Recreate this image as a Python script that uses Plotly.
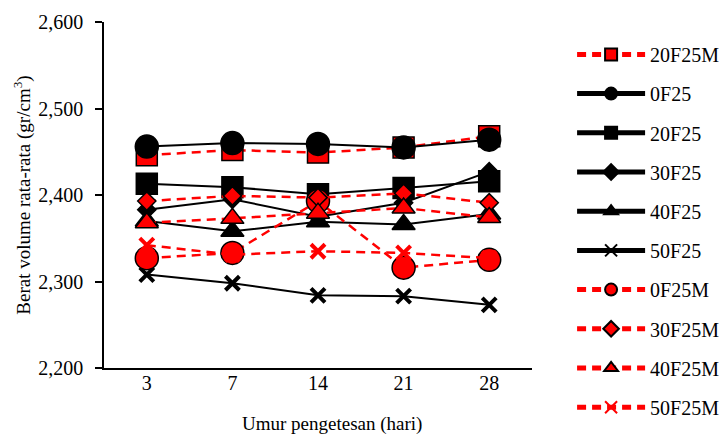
import plotly.graph_objects as go

# Curing age (days) used as categories on the x axis
days = ["3", "7", "14", "21", "28"]

# Average unit weight (gr/cm3) per mix
f20_25m = [2.446, 2.452, 2.449, 2.455, 2.468]
f0_25 = [2.456, 2.460, 2.459, 2.455, 2.464]
f20_25 = [2.413, 2.409, 2.401, 2.408, 2.416]
f30_25 = [2.383, 2.395, 2.375, 2.391, 2.427]
f40_25 = [2.370, 2.358, 2.369, 2.366, 2.378]
f50_25 = [2.308, 2.298, 2.284, 2.283, 2.273]
f0_25m = [2.327, 2.333, 2.393, 2.316, 2.325]
f30_25m = [2.393, 2.399, 2.397, 2.402, 2.391]
f40_25m = [2.368, 2.373, 2.379, 2.385, 2.374]
f50_25m = [2.342, 2.331, 2.335, 2.333, 2.327]

y_ticks = [2.2, 2.3, 2.4, 2.5, 2.6]

RED = "#ff0000"
BLACK = "#000000"
FONT = "Liberation Serif, Times New Roman, serif"

# (name, values, symbol, colour, size, dashed)
series = [
    ("20F25M", f20_25m, "square", RED, 21, True),
    ("0F25", f0_25, "circle", BLACK, 23, False),
    ("20F25", f20_25, "square", BLACK, 21, False),
    ("30F25", f30_25, "diamond", BLACK, 14, False),
    ("40F25", f40_25, "triangle-up", BLACK, 20, False),
    ("50F25", f50_25, "x-thin", BLACK, 14, False),
    ("0F25M", f0_25m, "circle", RED, 23, True),
    ("30F25M", f30_25m, "diamond", RED, 14, True),
    ("40F25M", f40_25m, "triangle-up", RED, 20, True),
    ("50F25M", f50_25m, "x-thin", RED, 14, True),
]

fig = go.Figure()
for name, vals, sym, col, size, dashed in series:
    is_x = sym == "x-thin"
    fig.add_trace(go.Scatter(
        x=days, y=vals, name=name, mode="lines+markers",
        legendgroup=name,
        line=dict(color=col, width=2.5 if dashed else 2,
                  dash="9px,6px" if dashed else "solid"),
        marker=dict(symbol=sym, size=size, color=col,
                    line=dict(color=col if is_x else BLACK,
                              width=4 if is_x else 1.5)),
    ))

L, R, T, B = 104, 194, 22, 68
fig.update_layout(
    width=726, height=436,
    margin=dict(l=L, r=R, t=T, b=B, autoexpand=False),
    paper_bgcolor="white", plot_bgcolor="white",
    separators=", ",
    font=dict(family=FONT, size=20, color="black"),
    showlegend=True,
    legend=dict(
        xref="container", yref="container",
        x=0.788, xanchor="left", y=0.92, yanchor="top",
        maxheight=430,
        font=dict(family=FONT, size=20, color="black"),
        itemwidth=68, itemsizing="constant",
        tracegroupgap=10.2, bgcolor="rgba(0,0,0,0)",
    ),
    annotations=[dict(
        text="Umur pengetesan (hari)", xref="paper", yref="paper",
        x=(332 - L) / (726 - L - R), y=-(424 - 368) / (436 - T - B),
        xanchor="center", yanchor="middle", showarrow=False,
        font=dict(family=FONT, size=19, color="black"),
    )],
)

fig.update_xaxes(
    type="category", range=[-0.5, 4.5],
    showline=True, linecolor="black", linewidth=1.5,
    ticks="", showgrid=False, zeroline=False, ticklabelstandoff=-4,
    tickfont=dict(family=FONT, size=20),
)
fig.update_yaxes(
    range=[2.2, 2.6], tickvals=y_ticks, tickformat=".3f",
    showline=True, linecolor="black", linewidth=1.5,
    ticks="outside", ticklen=7, tickwidth=1.5, tickcolor="black",
    showgrid=False, zeroline=False, ticklabelstandoff=8,
    tickfont=dict(family=FONT, size=20),
    title=dict(text="Berat volume rata-rata (gr/cm<sup>3</sup>)",
               font=dict(family=FONT, size=19), standoff=3),
)

fig.write_html("out.html")
